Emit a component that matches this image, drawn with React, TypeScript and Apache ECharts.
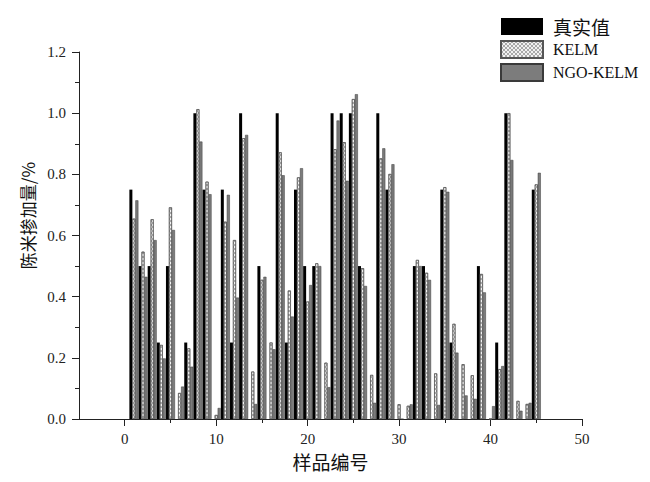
import React, { useEffect, useRef } from "react";
import * as echarts from "echarts";

const sampleIds = [
  1, 2, 3, 4, 5, 6, 7, 8, 9, 10, 11, 12, 13, 14, 15, 16, 17, 18, 19, 20, 21, 22, 23,
  24, 25, 26, 27, 28, 29, 30, 31, 32, 33, 34, 35, 36, 37, 38, 39, 40, 41, 42, 43, 44, 45,
];
const realValues = [
  0.75, 0.5, 0.5, 0.25, 0.5, 0, 0.25, 1.0, 0.75, 0, 0.75, 0.25, 1.0, 0, 0.5, 0, 1.0, 0.25,
  0.75, 0.5, 0.5, 0, 1.0, 1.0, 1.0, 0.5, 0, 1.0, 0.75, 0, 0, 0.5, 0.5, 0, 0.75, 0.25, 0, 0,
  0.5, 0, 0.25, 1.0, 0, 0, 0.75,
];
const kelmValues = [
  0.655, 0.547, 0.653, 0.242, 0.692, 0.085, 0.231, 1.013, 0.776, 0.013, 0.645, 0.585, 0.918,
  0.155, 0.455, 0.25, 0.872, 0.42, 0.79, 0.384, 0.509, 0.184, 0.882, 0.905, 1.046, 0.493,
  0.144, 0.852, 0.801, 0.048, 0.043, 0.52, 0.478, 0.149, 0.758, 0.311, 0.179, 0.143, 0.474, 0,
  0.163, 1.0, 0.059, 0.049, 0.767,
];
const ngoKelmValues = [
  0.715, 0.465, 0.585, 0.198, 0.618, 0.106, 0.171, 0.907, 0.735, 0.036, 0.733, 0.397, 0.929,
  0.049, 0.465, 0.228, 0.797, 0.335, 0.82, 0.438, 0.5, 0.104, 0.976, 0.779, 1.062, 0.435,
  0.053, 0.885, 0.833, 0, 0.048, 0.5, 0.455, 0.046, 0.743, 0.217, 0.077, 0.066, 0.414, 0.042,
  0.173, 0.847, 0.027, 0.053, 0.805,
];
const seriesNames = ["真实值", "KELM", "NGO-KELM"];
const xMajorTicks = [0, 10, 20, 30, 40, 50];
const xMinorTicks = [5, 15, 25, 35, 45];

const latin = "'Liberation Serif', 'Noto Sans CJK SC', serif";
const cjk = "'Noto Sans CJK SC', 'Liberation Serif', sans-serif";

export default function App() {
  const ref = useRef<HTMLDivElement>(null);
  useEffect(() => {
    if (!ref.current) return;
    const chart = echarts.init(ref.current, null, { renderer: "svg" });
    const pair = (vals: number[]) => sampleIds.map((id, i) => [id, vals[i]]);
    chart.setOption({
      animation: false,
      backgroundColor: "#ffffff",
      grid: { left: 79, right: 68, top: 52, bottom: 63, containLabel: false },
      legend: {
        orient: "vertical",
        left: 500,
        top: 17,
        padding: 0,
        itemWidth: 42,
        itemHeight: 17,
        itemGap: 4,
        icon: "rect",
        formatter: (name: string) => (/[\u4e00-\u9fff]/.test(name) ? `{c|${name}}` : name),
        textStyle: {
          fontSize: 16,
          color: "#111",
          fontFamily: latin,
          padding: [0, 0, 0, 5],
          rich: { c: { fontSize: 19, fontFamily: cjk, color: "#111" } },
        },
        data: seriesNames,
      },
      xAxis: [
        {
          type: "value",
          min: -5,
          max: 50,
          name: "样品编号",
          nameLocation: "middle",
          nameGap: 33,
          nameTextStyle: { fontSize: 19, color: "#111", fontFamily: cjk },
          axisLine: { show: true, onZero: false, lineStyle: { color: "#222", width: 1 } },
          axisTick: { show: true, length: 7, customValues: xMajorTicks, lineStyle: { color: "#222" } },
          axisLabel: { customValues: xMajorTicks, margin: 12, fontSize: 15, color: "#222", fontFamily: latin },
          splitLine: { show: false },
        },
        {
          type: "value",
          min: -5,
          max: 50,
          position: "bottom",
          axisLine: { show: false, onZero: false },
          axisTick: { show: true, length: 4, customValues: xMinorTicks, lineStyle: { color: "#222" } },
          axisLabel: { show: false },
          splitLine: { show: false },
        },
      ],
      yAxis: {
        type: "value",
        min: 0,
        max: 1.2,
        interval: 0.2,
        name: "陈米掺加量/%",
        nameLocation: "middle",
        nameGap: 38,
        nameTextStyle: { fontSize: 17, color: "#111", fontFamily: cjk, padding: [0, 0, 0, 40] },
        axisLine: { show: true, onZero: false, lineStyle: { color: "#222", width: 1 } },
        axisTick: { show: true, length: 7, lineStyle: { color: "#222" } },
        minorTick: { show: true, splitNumber: 2, length: 4, lineStyle: { color: "#222" } },
        axisLabel: {
          margin: 13,
          fontSize: 15,
          color: "#222",
          fontFamily: latin,
          formatter: (v: number) => v.toFixed(1),
        },
        splitLine: { show: false },
        minorSplitLine: { show: false },
      },
      series: [
        {
          name: seriesNames[0],
          type: "bar",
          xAxisIndex: 0,
          barWidth: 3,
          barGap: "0%",
          itemStyle: { color: "#000000", borderColor: "#000", borderWidth: 0 },
          data: pair(realValues),
        },
        {
          name: seriesNames[1],
          type: "bar",
          xAxisIndex: 0,
          barWidth: 3,
          barGap: "0%",
          itemStyle: {
            color: "#f2f2f2",
            borderColor: "#555",
            borderWidth: 0.6,
            decal: {
              symbol: "rect",
              symbolSize: 1,
              color: "rgba(80,80,80,0.45)",
              dashArrayX: [
                [2, 2],
                [0, 2, 2, 0],
              ],
              dashArrayY: [2, 0],
            },
          },
          data: pair(kelmValues),
        },
        {
          name: seriesNames[2],
          type: "bar",
          xAxisIndex: 0,
          barWidth: 3,
          barGap: "0%",
          itemStyle: { color: "#7c7c7c", borderColor: "#3a3a3a", borderWidth: 0.5 },
          data: pair(ngoKelmValues),
        },
      ],
    });
    return () => chart.dispose();
  }, []);
  return (
    <div
      ref={ref}
      style={{ position: "fixed", left: 0, top: 0, width: 650, height: 482, background: "#fff" }}
    />
  );
}
